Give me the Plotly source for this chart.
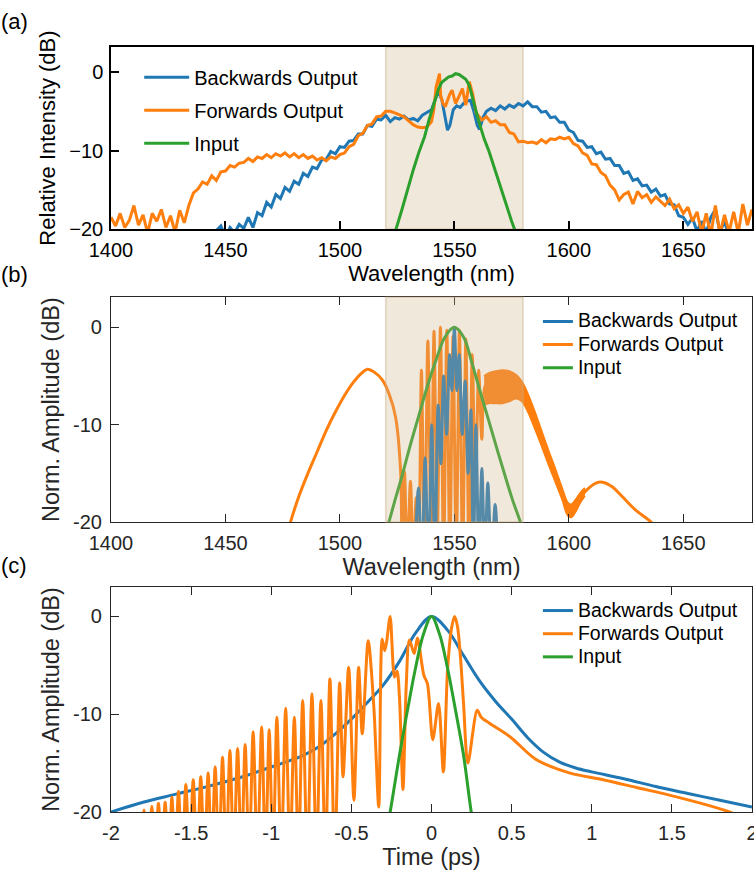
import plotly.graph_objects as go

# ---------------- colours / fonts ----------------
BLUE = "#1f77b4"
ORANGE = "#ff7f0e"
GREEN = "#2ca02c"
FONT = "Arial, 'Liberation Sans', sans-serif"
DARK = "#262626"

# ---------------- (a) measured spectra ----------------
a_fwd_wl = (list(range(1400, 1540, 2))
            + [1540, 1541, 1542, 1543.5, 1544, 1545, 1546, 1547, 1548, 1549,
               1550.5, 1552, 1553.5, 1555, 1556.5, 1558, 1559.5]
            + list(range(1562, 1681, 2)))
a_fwd_db = [-18.5, -19.6, -18.0, -19.8, -18.9, -17.0, -19.5, -18.2, -20.5, -18.0,
            -19.0, -17.5, -19.8, -18.3, -20.4, -17.6, -19.2, -17.0, -15.4, -14.9,
            -14.0, -14.3, -13.2, -13.8, -12.7, -12.6, -11.9, -12.1, -11.6, -11.5,
            -11.0, -11.4, -10.8, -11.0, -10.5, -10.9, -10.4, -10.7, -10.3, -10.8,
            -10.4, -10.9, -10.5, -11.0, -10.7, -11.2, -10.9, -11.3, -10.8, -11.0,
            -10.5, -10.3, -9.5, -9.2, -8.1, -7.8, -6.8, -6.6, -5.7, -5.6,
            -5.0, -5.0, -5.2, -5.4, -5.7, -6.2, -6.7, -7.0, -7.1, -7.0,
            -6.3, -4.8, -1.9, -0.2, -3.0, -4.0, -4.4, -3.6, -2.8, -2.3,
            -4.0, -3.1, -2.1, -4.2, -1.2, -2.8, -5.2,
            -6.1, -5.7, -6.4, -6.2, -6.7, -6.7, -7.7, -7.9, -8.9, -8.8,
            -9.0, -8.9, -9.1, -8.6, -9.0, -8.5, -8.6, -8.3, -8.5, -8.3,
            -9.1, -9.4, -10.3, -10.6, -11.7, -11.8, -12.8, -13.2, -14.4, -15.0,
            -16.3, -15.6, -15.3, -16.8, -15.2, -16.0, -15.6, -16.6, -15.9, -16.4,
            -17.0, -16.2, -17.4, -16.9, -18.0, -17.2, -19.0, -17.8, -20.5, -18.0,
            -20.8, -17.0, -20.6, -18.2, -20.4, -17.8, -20.5, -16.8, -19.5, -17.5]

a_bwd_wl = (list(range(1444, 1541, 2))
            + [1541.5, 1543, 1544.5, 1546, 1547, 1548, 1549.5, 1551, 1552.5, 1554,
               1555.5, 1557, 1558.5, 1560, 1561, 1562.5]
            + list(range(1564, 1671, 2)))
a_bwd_db = [-21.0, -20.2, -19.6, -21.0, -19.8, -20.5, -19.4, -19.9, -18.5, -19.8,
            -17.9, -18.3, -16.6, -17.2, -15.6, -16.1, -14.7, -15.2, -13.9, -14.3,
            -12.9, -13.3, -12.1, -12.3, -11.2, -11.1, -10.1, -10.4, -9.5, -9.6,
            -8.8, -8.7, -7.9, -7.9, -6.8, -6.9, -6.0, -6.1, -5.5, -6.3,
            -5.8, -6.0, -5.6, -6.1, -5.9, -6.2, -5.5, -5.2, -4.8,
            -3.6, -2.4, -3.5, -6.0, -7.4, -6.8, -4.8, -4.3, -4.5, -4.0,
            -3.7, -3.6, -5.0, -6.8, -7.3, -5.8,
            -5.0, -4.6, -4.9, -4.3, -4.7, -4.2, -4.5, -4.0, -4.3, -3.8,
            -4.4, -4.4, -5.1, -5.0, -5.8, -5.7, -6.4, -6.4, -7.4, -7.7,
            -8.7, -8.8, -9.6, -9.5, -10.4, -10.2, -11.1, -11.0, -11.9, -11.9,
            -12.9, -12.7, -13.8, -13.6, -14.5, -14.4, -15.3, -14.9, -15.8, -15.6,
            -16.8, -16.9, -18.3, -18.5, -19.4, -18.6, -20.3, -19.0, -20.5, -18.5,
            -17.5, -20.4, -19.0, -21.0]

a_in_wl = [1523, 1524.5, 1527, 1530, 1532, 1534.5, 1537, 1539, 1541, 1543,
           1544.5, 1546, 1547.5, 1549, 1550.5, 1552, 1553.5, 1555, 1556.5, 1558,
           1559.5, 1561, 1563, 1565, 1567.5, 1570, 1572.5, 1575, 1576.5, 1578]
a_in_db = [-21.0, -20.0, -17.6, -14.4, -12.5, -10.2, -8.2, -6.0, -4.1, -2.2,
           -1.3, -0.9, -0.6, -0.5, -0.2, -0.3, -0.6, -0.9, -1.7, -3.5,
           -5.0, -6.6, -8.5, -10.0, -12.3, -14.6, -16.8, -19.0, -20.2, -21.5]

# ---------------- (b) simulated spectra ----------------
b_fwd_wl = [1476, 1478.4, 1482, 1486, 1490, 1494, 1498, 1502, 1506, 1509,
            1512, 1515, 1518.5, 1521.4, 1524.3, 1526.5,
            1527.2, 1528.2, 1529.4, 1530.8, 1532.1, 1533.3, 1534.4, 1535.6, 1537.0, 1538.4,
            1539.8, 1541.1, 1542.5, 1543.9, 1545.3, 1546.7, 1548.0, 1549.4, 1550.8, 1552.2,
            1553.6, 1555.0, 1556.4, 1557.8, 1559.2, 1560.6, 1562.0,
            1563.4, 1565, 1568, 1571, 1574, 1577, 1579.5, 1582, 1585, 1588,
            1591, 1594, 1597, 1599.5, 1601, 1603, 1605, 1607.4, 1611.8, 1614.7,
            1619.1, 1623.4, 1629.3, 1635.9, 1640]
b_fwd_db = [-22.0, -20.0, -17.4, -15.0, -12.8, -10.6, -8.7, -7.0, -5.6, -4.8,
            -4.3, -4.6, -5.4, -6.8, -9.2, -14.7,
            -24.0, -14.8, -24.0, -15.8, -24.0, -17.5, -24.0, -4.4, -24.0, -1.4,
            -21.0, -0.4, -22.0, 0.0, -24.0, -0.3, -24.0, -0.9, -24.0, -0.3,
            -24.0, -1.2, -24.0, -2.8, -17.0, -4.4, -11.5,
            -6.0, -6.2, -6.1, -6.1, -6.0, -6.1, -6.6, -7.7, -9.5, -11.4,
            -13.3, -15.2, -17.0, -18.6, -18.8, -18.3, -17.5, -16.8, -16.0, -15.9,
            -16.4, -17.4, -18.8, -20.0, -21.5]

# fast small-period ripple on the red lobe: upper / lower envelope
b_ripple_wl = [1563, 1565, 1568, 1571, 1574, 1577, 1579.5, 1582, 1585, 1588,
               1591, 1594, 1597, 1599.5, 1601, 1603, 1605, 1607]
b_ripple_hi = [-5.0, -4.7, -4.5, -4.4, -4.5, -4.9, -5.6, -6.8, -8.6, -10.6,
               -12.6, -14.5, -16.5, -18.0, -18.2, -17.7, -17.0, -16.5]
b_ripple_lo = [-8.0, -7.8, -7.8, -7.8, -7.6, -7.3, -7.6, -8.6, -10.3, -12.1,
               -14.0, -15.8, -17.6, -19.3, -19.5, -18.9, -18.0, -17.3]

b_bwd_wl = [1532.5, 1534.3, 1535.8, 1537.2, 1538.7, 1540.1, 1541.5, 1542.9, 1544.1, 1545.3,
            1546.6, 1547.9, 1548.9, 1550.0, 1551.1, 1552.1, 1553.4, 1554.7, 1556.0, 1557.2,
            1558.3, 1559.4, 1560.7, 1562.0, 1563.3, 1564.6, 1566.2, 1567.8, 1569.3]
b_bwd_db = [-25.0, -16.5, -25.0, -13.4, -25.0, -10.0, -24.0, -8.0, -14.0, -5.0,
            -11.0, -2.8, -6.5, 0.0, -6.5, -2.8, -11.0, -5.5, -15.0, -8.5,
            -24.0, -10.0, -24.0, -14.5, -24.0, -16.0, -24.0, -18.2, -25.0]

b_in_wl = [1519, 1521.4, 1524, 1527.2, 1530.5, 1534.3, 1538, 1541.5, 1545.9, 1549.9,
           1554, 1557.6, 1561, 1564.9, 1568.5, 1572.2, 1575.5, 1578.8, 1581]
b_in_db = [-22.0, -20.0, -17.8, -15.2, -12.3, -9.2, -6.2, -3.7, -1.0, 0.0,
           -1.0, -3.6, -6.4, -9.5, -12.4, -15.3, -17.8, -20.0, -22.0]

# ---------------- (c) temporal profiles ----------------
c_bwd_t = [-2.0, -1.8, -1.6, -1.4, -1.2, -1.0, -0.8, -0.7, -0.6, -0.5,
           -0.4, -0.3, -0.2, -0.1, 0.0, 0.1, 0.2, 0.3, 0.4, 0.5,
           0.6, 0.7, 0.8, 0.9, 1.0, 1.2, 1.4, 1.6, 1.8, 2.0]
c_bwd_db = [-20.0, -19.0, -18.2, -17.4, -16.5, -15.4, -14.2, -13.3, -12.0, -10.5,
            -8.8, -7.0, -4.6, -1.7, 0.0, -1.4, -4.0, -6.6, -8.7, -10.5,
            -12.4, -13.9, -14.9, -15.5, -15.9, -16.6, -17.4, -18.1, -18.8, -19.5]

c_fwd_t = [-1.830, -1.794, -1.770, -1.745, -1.725, -1.704, -1.683, -1.662, -1.641, -1.620,
           -1.600, -1.579, -1.556, -1.533, -1.510, -1.487, -1.463, -1.440, -1.417, -1.394,
           -1.372, -1.350, -1.327, -1.304, -1.281, -1.258, -1.234, -1.210, -1.186, -1.163,
           -1.138, -1.113, -1.087, -1.060, -1.036, -1.013, -0.989, -0.965, -0.938, -0.910,
           -0.883, -0.856, -0.830, -0.804, -0.775, -0.746, -0.718, -0.690, -0.662, -0.634,
           -0.604, -0.573, -0.552, -0.517, -0.484, -0.455, -0.432, -0.395, -0.360, -0.329,
           -0.308, -0.292, -0.280, -0.258, -0.231, -0.215, -0.200, -0.178, -0.158, -0.138,
           -0.108, -0.088, -0.048, -0.025, 0.008, 0.044, 0.074, 0.100, 0.125, 0.144,
           0.162, 0.180, 0.200, 0.227, 0.285, 0.310, 0.360, 0.490, 0.650, 0.860,
           1.070, 1.280, 1.490, 1.700, 1.860, 1.950]
c_fwd_db = [-25.0, -19.8, -25.0, -19.4, -25.0, -19.1, -25.0, -19.0, -25.0, -18.5,
            -25.0, -17.9, -25.0, -17.2, -25.0, -16.7, -25.0, -16.4, -25.0, -16.0,
            -25.0, -15.4, -25.0, -14.4, -25.0, -13.7, -25.0, -13.5, -25.0, -13.1,
            -25.0, -11.8, -25.0, -11.3, -25.0, -11.6, -25.0, -10.3, -25.0, -9.4,
            -25.0, -10.3, -25.0, -8.6, -25.0, -7.9, -25.0, -8.6, -25.0, -6.4,
            -25.0, -6.8, -16.4, -5.2, -18.8, -5.2, -12.0, -2.5, -9.2, -19.5,
            -2.3, -3.5, -2.6, 0.0, -6.2, -5.6, -8.2, -17.7, -7.2, -2.4,
            -3.8, -2.2, -6.0, -6.9, -12.6, -8.9, -15.9, -5.5, -1.2, 0.0,
            -1.0, -4.0, -8.9, -15.0, -9.6, -10.3, -10.9, -12.3, -14.6, -16.0,
            -16.7, -17.5, -18.3, -19.2, -20.0, -20.6]

c_in_t = [-0.27, -0.258, -0.2, -0.15, -0.1, -0.05, 0.0, 0.05, 0.1, 0.15, 0.2, 0.248, 0.26]
c_in_db = [-21.0, -20.0, -14.2, -9.6, -5.3, -1.8, 0.0, -1.8, -5.3, -9.6, -14.2, -20.0, -21.0]

# ---------------- axis ticks ----------------
wl_ticks = [1400, 1450, 1500, 1550, 1600, 1650]
db_ticks = [0, -10, -20]
db_ticks_hy = ["0", "-10", "-20"]
db_minor = [0, -5, -10, -15, -20]
t_ticks = [-2, -1.5, -1, -0.5, 0, 0.5, 1, 1.5, 2]
t_ticks_hy = ["-2", "-1.5", "-1", "-0.5", "0", "0.5", "1", "1.5", "2"]

LEG_TXT = '<span style="font-size:19.5px">{}</span>'

fig = go.Figure()

# panel (a)
fig.add_trace(go.Scatter(x=a_bwd_wl, y=a_bwd_db, name="Backwards Output", mode="lines",
                         line=dict(color=BLUE, width=3), xaxis="x", yaxis="y",
                         legend="legend", legendgroup="a1"))
fig.add_trace(go.Scatter(x=a_fwd_wl, y=a_fwd_db, name="Forwards Output", mode="lines",
                         line=dict(color=ORANGE, width=3), xaxis="x", yaxis="y",
                         legend="legend", legendgroup="a2"))
fig.add_trace(go.Scatter(x=a_in_wl, y=a_in_db, name="Input", mode="lines",
                         line=dict(color=GREEN, width=3), xaxis="x", yaxis="y",
                         legend="legend", legendgroup="a3"))

# panel (b): forward spectrum first so the backward fringes sit on top of it
fig.add_trace(go.Scatter(x=b_fwd_wl, y=b_fwd_db, name=LEG_TXT.format("Forwards Output"),
                         mode="lines", legendrank=2,
                         line=dict(color=ORANGE, width=3, shape="spline", smoothing=0.8),
                         xaxis="x2", yaxis="y2", legend="legend2"))
fig.add_trace(go.Scatter(x=b_ripple_wl, y=b_ripple_hi, mode="lines", showlegend=False,
                         line=dict(color=ORANGE, width=2, shape="spline"),
                         xaxis="x2", yaxis="y2", hoverinfo="skip"))
fig.add_trace(go.Scatter(x=b_ripple_wl, y=b_ripple_lo, mode="lines", showlegend=False,
                         line=dict(color=ORANGE, width=2, shape="spline"),
                         fill="tonexty", fillcolor=ORANGE,
                         xaxis="x2", yaxis="y2", hoverinfo="skip"))
fig.add_trace(go.Scatter(x=b_bwd_wl, y=b_bwd_db, name=LEG_TXT.format("Backwards Output"),
                         mode="lines", legendrank=1,
                         line=dict(color=BLUE, width=3, shape="spline", smoothing=0.8),
                         xaxis="x2", yaxis="y2", legend="legend2"))
fig.add_trace(go.Scatter(x=b_in_wl, y=b_in_db, name=LEG_TXT.format("Input"),
                         mode="lines", legendrank=3,
                         line=dict(color=GREEN, width=3, shape="spline"),
                         xaxis="x2", yaxis="y2", legend="legend2"))

# panel (c)
fig.add_trace(go.Scatter(x=c_bwd_t, y=c_bwd_db, name=LEG_TXT.format("Backwards Output"),
                         mode="lines", line=dict(color=BLUE, width=3, shape="spline"),
                         xaxis="x3", yaxis="y3", legend="legend3"))
fig.add_trace(go.Scatter(x=c_fwd_t, y=c_fwd_db, name=LEG_TXT.format("Forwards Output"),
                         mode="lines",
                         line=dict(color=ORANGE, width=3, shape="spline", smoothing=0.8),
                         xaxis="x3", yaxis="y3", legend="legend3"))
fig.add_trace(go.Scatter(x=c_in_t, y=c_in_db, name=LEG_TXT.format("Input"),
                         mode="lines", line=dict(color=GREEN, width=3, shape="spline"),
                         xaxis="x3", yaxis="y3", legend="legend3"))

tick_font_a = dict(family=FONT, size=20, color="black")
tick_font_b = dict(family=FONT, size=20, color=DARK)
title_font_a = dict(family=FONT, size=22, color="black")
title_font_b = dict(family=FONT, size=23.5, color=DARK)

common = dict(showgrid=False, zeroline=False, showline=True, ticks="inside",
              ticklen=8, automargin=False)

fig.update_layout(
    width=754, height=873,
    margin=dict(l=111, r=2, t=47, b=61),
    plot_bgcolor="white", paper_bgcolor="white",
    font=dict(family=FONT, color="black"),
    # (a)
    xaxis=dict(domain=[0, 1], range=[1400, 1680], anchor="y", tickvals=wl_ticks,
               mirror=True, linecolor="black", linewidth=1.5, tickcolor="black", tickwidth=1.5,
               tickfont=tick_font_a, ticklabelstandoff=2,
               title=dict(text="Wavelength (nm)", font=title_font_a, standoff=3), **common),
    yaxis=dict(domain=[0.762, 1], range=[-20, 3.2], anchor="x", tickvals=db_ticks,
               mirror=True, linecolor="black", linewidth=1.5, tickcolor="black", tickwidth=1.5,
               tickfont=tick_font_a, ticklabelstandoff=2,
               title=dict(text="Relative Intensity (dB)", font=title_font_a, standoff=8), **common),
    # (b)
    xaxis2=dict(domain=[0, 1], range=[1400, 1680], anchor="y2", tickvals=wl_ticks,
                ticktext=[str(v) for v in wl_ticks],
                mirror="ticks", linecolor=DARK, linewidth=1.2, tickcolor=DARK,
                tickfont=tick_font_b, ticklabelstandoff=3,
                title=dict(text="Wavelength (nm)", font=title_font_b, standoff=4), **common),
    yaxis2=dict(domain=[0.379, 0.673], range=[-20, 3.1], anchor="x2", tickvals=db_ticks,
                ticktext=db_ticks_hy, mirror=True, linecolor=DARK, linewidth=1.2, tickcolor=DARK,
                tickfont=tick_font_b, ticklabelstandoff=4,
                title=dict(text="Norm. Amplitude (dB)", font=title_font_b, standoff=6), **common),
    yaxis4=dict(overlaying="y2", side="right", anchor="x2", range=[-20, 3.1], tickvals=db_minor,
                showticklabels=False, showgrid=False, zeroline=False, showline=False,
                ticks="inside", ticklen=8, tickcolor=DARK, automargin=False),
    # (c)
    xaxis3=dict(domain=[0, 1], range=[-2, 2], anchor="y3", tickvals=t_ticks, ticktext=t_ticks_hy,
                mirror="ticks", linecolor=DARK, linewidth=1.2, tickcolor=DARK,
                tickfont=tick_font_b, ticklabelstandoff=3, ticklabeloverflow="allow",
                title=dict(text="Time (ps)", font=title_font_b, standoff=4), **common),
    yaxis3=dict(domain=[0, 0.294], range=[-20, 3], anchor="x3", tickvals=db_ticks,
                ticktext=db_ticks_hy, mirror=True, linecolor=DARK, linewidth=1.2, tickcolor=DARK,
                tickfont=tick_font_b, ticklabelstandoff=4,
                title=dict(text="Norm. Amplitude (dB)", font=title_font_b, standoff=6), **common),
    yaxis5=dict(overlaying="y3", side="right", anchor="x3", range=[-20, 3], tickvals=db_minor,
                showticklabels=False, showgrid=False, zeroline=False, showline=False,
                ticks="inside", ticklen=8, tickcolor=DARK, automargin=False),
    legend=dict(x=0.044, y=0.986, xanchor="left", yanchor="top", bgcolor="rgba(0,0,0,0)",
                font=dict(family=FONT, size=20, color="black"), itemwidth=45,
                tracegroupgap=4),
    legend2=dict(x=0.666, y=0.663, xanchor="left", yanchor="top", bgcolor="rgba(0,0,0,0)",
                 font=dict(family=FONT, size=15.5, color="black"), itemwidth=30),
    legend3=dict(x=0.666, y=0.285, xanchor="left", yanchor="top", bgcolor="rgba(0,0,0,0)",
                 font=dict(family=FONT, size=15.5, color="black"), itemwidth=30),
    shapes=[
        dict(type="rect", xref="x", yref="y domain", x0=1520, x1=1580, y0=0, y1=1,
             fillcolor="rgba(210,180,140,0.3)", line=dict(color="rgba(200,170,130,0.45)", width=1.5),
             layer="below"),
        dict(type="rect", xref="x2", yref="y2 domain", x0=1520, x1=1580, y0=0, y1=1,
             fillcolor="rgba(210,180,140,0.3)", line=dict(color="rgba(200,170,130,0.45)", width=1.5),
             layer="above"),
    ],
    annotations=[
        dict(text="(a)", xref="paper", yref="paper", x=-0.151, y=1.033, showarrow=False,
             font=dict(family=FONT, size=22, color="black"), xanchor="center", yanchor="middle"),
        dict(text="(b)", xref="paper", yref="paper", x=-0.151, y=0.703, showarrow=False,
             font=dict(family=FONT, size=22, color="black"), xanchor="center", yanchor="middle"),
        dict(text="(c)", xref="paper", yref="paper", x=-0.151, y=0.322, showarrow=False,
             font=dict(family=FONT, size=22, color="black"), xanchor="center", yanchor="middle"),
    ],
)

fig.write_html("out.html")
